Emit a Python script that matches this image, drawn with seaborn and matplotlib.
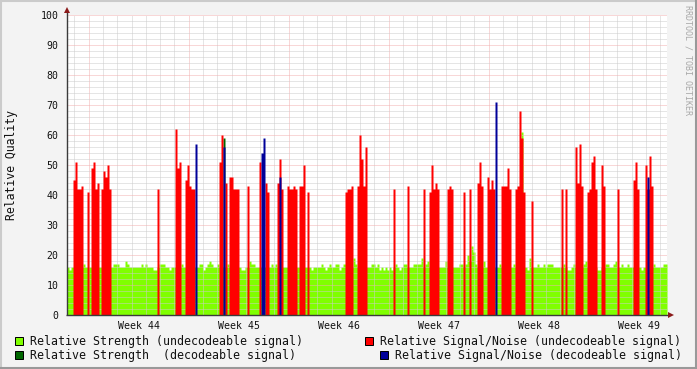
import numpy as np
import pandas as pd
import matplotlib
matplotlib.use("Agg")
import matplotlib.pyplot as plt
import matplotlib.transforms as mtransforms
import seaborn as sns
from matplotlib.patches import Rectangle
from matplotlib.lines import Line2D

# ---------------- data ----------------
# 300 consecutive samples, each 0.14 day (3.36 h) -> 6 weeks
sample_days = 0.14
first_week_start = 1.52          # day offset of the first week boundary (Week 44)
week_labels = ["Week 44", "Week 45", "Week 46", "Week 47", "Week 48", "Week 49"]

# Relative Strength (undecodeable signal), every sample
strength_undec = [
    16, 15, 16, 16, 16, 16, 16, 16, 17, 16, 16, 16, 16, 16, 16, 16, 16, 16, 16, 16,
    16, 16, 16, 17, 17, 17, 16, 16, 16, 18, 17, 16, 16, 16, 16, 16, 16, 17, 16, 17,
    16, 16, 16, 15, 15, 16, 17, 17, 17, 16, 16, 15, 16, 16, 16, 16, 16, 17, 16, 16,
    16, 16, 16, 16, 16, 16, 17, 17, 15, 16, 17, 18, 17, 16, 16, 17, 16, 16, 16, 16,
    17, 16, 16, 16, 16, 16, 16, 15, 15, 16, 16, 18, 17, 17, 16, 16, 16, 16, 16, 16,
    16, 16, 17, 16, 17, 16, 16, 16, 16, 16, 16, 16, 16, 16, 16, 16, 16, 16, 16, 16,
    16, 16, 15, 16, 16, 16, 16, 17, 16, 15, 16, 17, 16, 16, 17, 17, 15, 16, 17, 17,
    16, 16, 16, 19, 17, 16, 16, 16, 16, 16, 16, 16, 17, 17, 16, 17, 15, 16, 15, 16,
    15, 16, 15, 16, 17, 16, 15, 16, 17, 17, 16, 16, 16, 17, 17, 17, 17, 19, 16, 17,
    18, 16, 16, 16, 16, 16, 16, 16, 16, 18, 16, 16, 16, 16, 16, 16, 17, 17, 16, 17,
    20, 18, 23, 21, 17, 16, 16, 16, 18, 16, 16, 16, 16, 16, 16, 16, 17, 16, 16, 16,
    16, 16, 16, 17, 16, 16, 16, 61, 16, 16, 15, 19, 16, 16, 16, 17, 16, 16, 17, 16,
    17, 17, 17, 16, 16, 16, 16, 16, 17, 16, 15, 15, 16, 17, 16, 16, 16, 16, 17, 18,
    16, 16, 16, 16, 16, 15, 15, 16, 16, 17, 17, 16, 16, 17, 18, 16, 16, 17, 16, 16,
    17, 16, 16, 16, 16, 16, 16, 15, 16, 16, 16, 16, 16, 17, 16, 16, 16, 16, 17, 17,
]

# Relative Strength (decodeable signal): sample index -> value
strength_dec_at = [78]
strength_dec = [59]

# Relative Signal/Noise (undecodeable signal): sample index -> value
snr_undec_at = [
    3, 4, 5, 6, 7, 10, 12, 13, 14, 15, 17, 18, 19, 20, 21, 45,
    54, 55, 56, 59, 60, 61, 62, 63, 76, 77, 79, 81, 82, 83, 84, 85, 90, 96, 99, 100,
    105, 106, 107, 110, 111, 112, 113, 114, 116, 117, 118, 120, 139, 140, 141, 142,
    145, 146, 147, 148, 149,
    163, 170, 178, 181, 182, 183, 184, 185, 190, 191, 192, 198,
    201, 205, 206, 207, 210, 211, 212, 213, 217, 218, 219, 220, 221, 224, 225, 226,
    227, 228, 232, 247, 249,
    254, 255, 256, 257, 260, 261, 262, 263, 264, 267, 268, 275, 283, 284, 285, 289,
    290, 291, 292,
]
snr_undec = [
    45, 51, 42, 42, 43, 41, 49, 51, 42, 44, 42, 48, 46, 50, 42, 42,
    62, 49, 51, 45, 50, 43, 42, 42, 51, 60, 44, 46, 46, 42, 42, 42, 43, 51, 44, 41,
    44, 52, 42, 43, 42, 42, 43, 42, 43, 43, 50, 41, 41, 42, 42, 43,
    43, 60, 52, 43, 56,
    42, 43, 42, 41, 50, 42, 44, 42, 42, 43, 42, 41,
    42, 44, 51, 43, 46, 42, 45, 42, 43, 43, 43, 49, 42, 42, 43, 68,
    59, 41, 38, 42, 42,
    56, 44, 57, 43, 41, 42, 51, 53, 42, 50, 43, 42, 45, 51, 42, 50,
    42, 53, 43,
]

# Relative Signal/Noise (decodeable signal): sample index -> value
snr_dec_at = [64, 78, 97, 98, 106, 214, 290]
snr_dec = [57, 56, 54, 59, 46, 71, 46]

# ---------------- style ----------------
sns.set_style("white")
plt.rcParams["font.family"] = ["DejaVu Sans Mono", "DejaVu Sans"]

LIME = "#80FF00"
DKGREEN = "#006600"
RED = "#FF0000"
BLUE = "#000099"
MINOR_GRID = "#CCCCCC"
MAJOR_GRID = "#F2B0B0"

W, H = 697, 369
fig = plt.figure(figsize=(W / 100, H / 100), dpi=100, facecolor="#F3F3F3")
ax = fig.add_axes([67 / W, (H - 315) / H, 600 / W, 300 / H])
ax.set_facecolor("white")

n = len(strength_undec)
edges = [float(e) for e in np.arange(n + 1) * sample_days]
centers = (np.arange(n) + 0.5) * sample_days


def dense(at, vals):
    a = np.zeros(n)
    a[np.array(at)] = vals
    return a


series = [
    (np.array(strength_undec, float), LIME, 0.2),
    (dense(strength_dec_at, strength_dec), DKGREEN, 1.0),
    (dense(snr_undec_at, snr_undec), RED, 1.1),
    (dense(snr_dec_at, snr_dec), BLUE, 1.2),
]
for vals, col, z in series:
    df = pd.DataFrame({"t": centers, "w": vals})
    sns.histplot(data=df, x="t", weights="w", bins=edges, element="step", fill=True,
                 color=col, alpha=1, linewidth=0, ax=ax, zorder=z)

ax.set_xlim(0, n * sample_days)
ax.set_ylim(0, 100)
ax.set_xlabel("")
ax.set_ylabel("")
ax.set_axisbelow(True)

# grid
dot = (0, (1, 1))
ax.set_yticks(np.arange(0, 101, 10))
ax.set_yticks(np.arange(0, 101, 2), minor=True)
ax.yaxis.grid(True, which="major", color=MAJOR_GRID, alpha=1, linestyle=dot, linewidth=0.72)
ax.yaxis.grid(True, which="minor", color=MINOR_GRID, alpha=1, linestyle=dot, linewidth=0.72)

total_days = int(round(n * sample_days))
week_starts = [first_week_start + 7 * k for k in range(len(week_labels))]
day_lines = [first_week_start - 1 + d for d in range(total_days)]
ax.set_xticks(week_starts)
ax.set_xticklabels([])
ax.set_xticks(day_lines, minor=True)
ax.xaxis.grid(True, which="major", color=MAJOR_GRID, alpha=1, linestyle=dot, linewidth=0.72)
ax.xaxis.grid(True, which="minor", color=MINOR_GRID, alpha=1, linestyle=dot, linewidth=0.72)

# week labels centred in each week
lab_tr = mtransforms.blended_transform_factory(ax.transData, fig.transFigure)
for w, lab in zip(week_starts, week_labels):
    ax.text(w + 3.5, 1 - 326 / H, lab, transform=lab_tr, ha="center", va="center",
            fontsize=7.1, color="#111111", clip_on=False)

ax.tick_params(axis="x", which="major", length=3, width=0.8, color="#CC3333",
               direction="out")
ax.tick_params(axis="x", which="minor", length=2, width=0.72, color="#999999", direction="out")
ax.tick_params(axis="y", which="major", length=2, width=0.72, color="#999999", pad=4.0,
               labelsize=7.1, labelcolor="#111111", direction="out")
ax.tick_params(axis="y", which="minor", length=0)

for s in ax.spines.values():
    s.set_visible(False)

# axis lines with arrows
ax.plot([0, 0], [0, 1.012], transform=ax.transAxes, color="#3A3A3A", lw=1.0,
        clip_on=False, zorder=4, solid_capstyle="butt")
ax.plot([-0.002, 1.004], [0, 0], transform=ax.transAxes, color="#3A3A3A", lw=1.0,
        clip_on=False, zorder=4, solid_capstyle="butt")
ax.plot([0], [1.016], marker="^", markersize=4, color="#8B1A1A", transform=ax.transAxes,
        clip_on=False, zorder=5, markeredgewidth=0)
ax.plot([1.006], [0], marker=">", markersize=4, color="#8B1A1A", transform=ax.transAxes,
        clip_on=False, zorder=5, markeredgewidth=0)

# y label
fig.text(12 / W, 1 - 165 / H, "Relative Quality", rotation=90, ha="center", va="center",
         fontsize=8.3, color="#111111")

# watermark
fig.text(688 / W, 1 - 60 / H, "RRDTOOL / TOBI OETIKER", rotation=270, ha="center",
         va="center", fontsize=6, color="#A8A8A8")

# legend
legend_items = [
    (15, 341, LIME, "Relative Strength (undecodeable signal)"),
    (15, 355, DKGREEN, "Relative Strength  (decodeable signal)"),
    (365, 341, RED, "Relative Signal/Noise (undecodeable signal)"),
    (380, 355, BLUE, "Relative Signal/Noise (decodeable signal)"),
]
for x0, yc, col, label in legend_items:
    fig.patches.append(Rectangle((x0 / W, 1 - (yc + 4) / H), 8 / W, 8 / H,
                                 transform=fig.transFigure, facecolor=col,
                                 edgecolor="black", linewidth=0.72))
    fig.text((x0 + 15) / W, 1 - yc / H, label, ha="left", va="center",
             fontsize=8.4, color="#111111")

# frame (shade)
fig.add_artist(Line2D([0, 1], [1 - 1 / H, 1 - 1 / H], transform=fig.transFigure,
                      color="#CBCBCB", lw=1.5))
fig.add_artist(Line2D([1 / W, 1 / W], [0, 1], transform=fig.transFigure,
                      color="#CBCBCB", lw=1.5))
fig.add_artist(Line2D([0, 1], [1 / H, 1 / H], transform=fig.transFigure,
                      color="#999999", lw=1.5))
fig.add_artist(Line2D([1 - 1 / W, 1 - 1 / W], [0, 1], transform=fig.transFigure,
                      color="#999999", lw=1.5))

fig.savefig("out.png", dpi=100, facecolor=fig.get_facecolor())
